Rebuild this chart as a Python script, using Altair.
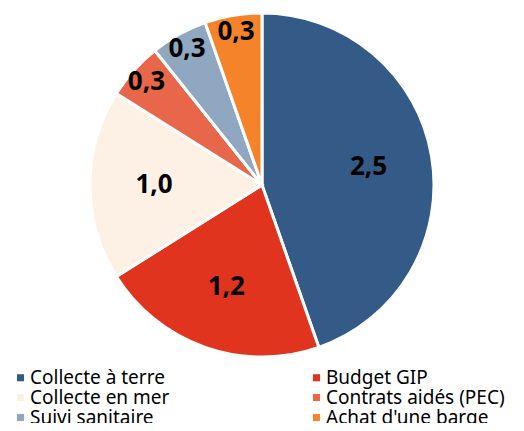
import altair as alt
import pandas as pd

categories = ["Collecte à terre", "Budget GIP", "Collecte en mer",
              "Contrats aidés (PEC)", "Suivi sanitaire", "Achat d'une barge"]
values = [2.5, 1.2, 1.0, 0.3, 0.3, 0.3]
colors = ["#345A88", "#E0341F", "#FDF1E6", "#E8664A", "#8FA7C1", "#F5832A"]
# legend reading order (two columns, filled top to bottom)
legend_order = ["Collecte à terre", "Collecte en mer", "Suivi sanitaire",
                "Budget GIP", "Contrats aidés (PEC)", "Achat d'une barge"]

df = pd.DataFrame({
    "cat": categories,
    "value": values,
    "idx": list(range(len(categories))),
    "label": [f"{v:.1f}".replace(".", ",") for v in values],
})

base = alt.Chart(df).encode(
    theta=alt.Theta("value:Q", stack=True),
    order=alt.Order("idx:Q"),
    color=alt.Color(
        "cat:N",
        sort=categories,
        scale=alt.Scale(domain=categories, range=colors),
        legend=alt.Legend(
            title=None, orient="none", legendX=3, legendY=360,
            values=legend_order, direction="vertical",
            columns=2, columnPadding=137, rowPadding=0, padding=0,
            symbolType="square", symbolSize=50, symbolStrokeWidth=0,
            labelFont="Noto Sans", labelFontSize=19, labelColor="#000000",
            labelOffset=0, labelLimit=300,
        ),
    ),
    x=alt.value(254),
    y=alt.value(177),
)

pie = base.mark_arc(outerRadius=172, stroke="white", strokeWidth=3)

text_big = base.mark_text(
    font="Open Sans", fontWeight="bold", fontSize=26, radius=108
).encode(text="label:N", detail="cat:N", color=alt.value("#000000"),
         opacity=alt.condition("datum.value >= 0.5", alt.value(1), alt.value(0)))

text_small = base.mark_text(
    font="Open Sans", fontWeight="bold", fontSize=26, radius=155
).encode(text="label:N", detail="cat:N", color=alt.value("#000000"),
         opacity=alt.condition("datum.value < 0.5", alt.value(1), alt.value(0)))

chart = alt.layer(pie, text_big, text_small).properties(
    width=508, height=415, autosize=alt.AutoSizeParams(type="none"), padding=0,
).configure_view(stroke=None)

chart.save("out.html", embed_options={"renderer": "svg", "actions": False})
